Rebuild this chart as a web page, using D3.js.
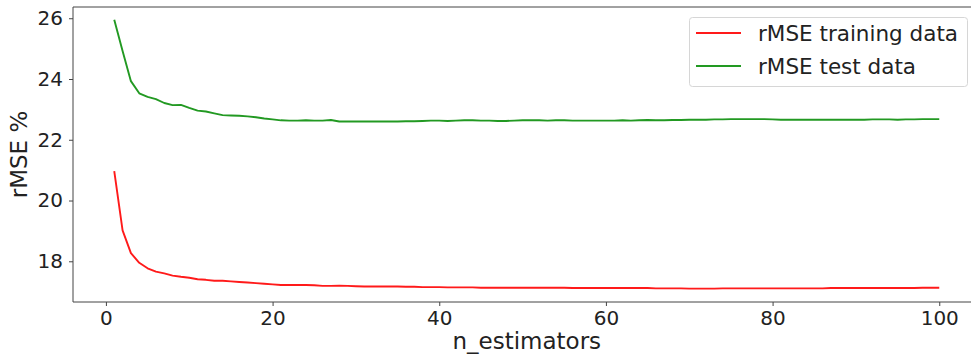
<!DOCTYPE html>
<html>
<head>
<meta charset="utf-8">
<script src="https://cdn.jsdelivr.net/npm/d3@7"></script>
<style>
  body { margin: 0; background: #fff; }
  svg { display: block; }
</style>
</head>
<body>
<div id="chart"></div>
<script>
// n_estimators 1..100
const nEstimators = d3.range(1, 101)

const trainRmse = [
  20.97, 19.02, 18.27, 17.95, 17.77, 17.66, 17.60, 17.53, 17.49, 17.46,
  17.41, 17.39, 17.36, 17.36, 17.34, 17.32, 17.30, 17.28, 17.26, 17.24,
  17.22, 17.22, 17.22, 17.22, 17.21, 17.19, 17.19, 17.20, 17.19, 17.18,
  17.17, 17.17, 17.17, 17.17, 17.17, 17.16, 17.16, 17.15, 17.15, 17.15,
  17.14, 17.14, 17.14, 17.14, 17.13, 17.13, 17.13, 17.13, 17.13, 17.13,
  17.13, 17.13, 17.13, 17.13, 17.13, 17.12, 17.12, 17.12, 17.12, 17.12,
  17.12, 17.12, 17.12, 17.12, 17.12, 17.11, 17.11, 17.11, 17.11, 17.10,
  17.10, 17.10, 17.10, 17.11, 17.11, 17.11, 17.11, 17.11, 17.11, 17.11,
  17.11, 17.11, 17.11, 17.11, 17.11, 17.11, 17.12, 17.12, 17.12, 17.12,
  17.12, 17.12, 17.12, 17.12, 17.12, 17.12, 17.12, 17.13, 17.13, 17.13
]

const testRmse = [
  25.95, 24.92, 23.93, 23.53, 23.41, 23.34, 23.21, 23.14, 23.15, 23.05,
  22.96, 22.93, 22.87, 22.81, 22.80, 22.79, 22.77, 22.74, 22.70, 22.67,
  22.64, 22.63, 22.63, 22.64, 22.63, 22.63, 22.65, 22.60, 22.60, 22.60,
  22.60, 22.60, 22.60, 22.60, 22.60, 22.61, 22.61, 22.62, 22.63, 22.63,
  22.62, 22.63, 22.64, 22.64, 22.63, 22.63, 22.62, 22.62, 22.63, 22.64,
  22.64, 22.64, 22.63, 22.64, 22.64, 22.63, 22.63, 22.63, 22.63, 22.63,
  22.63, 22.64, 22.63, 22.64, 22.65, 22.64, 22.64, 22.65, 22.65, 22.66,
  22.66, 22.66, 22.67, 22.67, 22.68, 22.68, 22.68, 22.68, 22.68, 22.67,
  22.66, 22.66, 22.66, 22.66, 22.66, 22.66, 22.66, 22.66, 22.66, 22.66,
  22.66, 22.67, 22.67, 22.67, 22.66, 22.67, 22.67, 22.68, 22.68, 22.68
]

const xTicks = [0, 20, 40, 60, 80, 100]
const yTicks = [18, 20, 22, 24, 26]
const seriesNames = ["rMSE training data", "rMSE test data"]
const seriesColors = ["#ff1a1a", "#229922"]

const width = 971, height = 360
const margin = { top: 7, bottom: 302, left: 73, right: 980.5 }
const font = "DejaVu Sans, sans-serif"
const ink = "#222"

const x = d3.scaleLinear()
  .domain([-3.95, 104.95])
  .range([margin.left, margin.right])

const y = d3.scaleLinear()
  .domain([16.66, 26.37])
  .range([margin.bottom, margin.top])

const svg = d3.select("#chart").append("svg")
  .attr("width", width)
  .attr("height", height)

// lines
const line = d3.line()
  .x(d => x(d[0]))
  .y(d => y(d[1]))

const series = [trainRmse, testRmse].map(vals => nEstimators.map((n, i) => [n, vals[i]]))

svg.append("g")
  .selectAll("path")
  .data(series)
  .join("path")
  .attr("fill", "none")
  .attr("stroke", (d, i) => seriesColors[i])
  .attr("stroke-width", 1.9)
  .attr("stroke-linejoin", "round")
  .attr("d", line)

// axes
const xAxis = svg.append("g")
  .attr("transform", `translate(0,${margin.bottom})`)
  .call(d3.axisBottom(x).tickValues(xTicks).tickSize(4).tickPadding(5).tickSizeOuter(0))
xAxis.select(".domain").remove()

const yAxis = svg.append("g")
  .attr("transform", `translate(${margin.left},0)`)
  .call(d3.axisLeft(y).tickValues(yTicks).tickSize(4).tickPadding(6).tickSizeOuter(0))
yAxis.select(".domain").remove()

svg.selectAll(".tick line").attr("stroke", "#444")
svg.selectAll(".tick text")
  .attr("fill", ink)
  .attr("font-family", font)
  .attr("font-size", 20)

// spines (right one falls outside the picture)
const spines = svg.append("g").attr("stroke", "#444").attr("stroke-width", 1).attr("fill", "none")
spines.append("line").attr("x1", margin.left).attr("x2", margin.left).attr("y1", margin.top).attr("y2", margin.bottom)
spines.append("line").attr("x1", margin.left).attr("x2", width).attr("y1", margin.top).attr("y2", margin.top)
spines.append("line").attr("x1", margin.left).attr("x2", width).attr("y1", margin.bottom).attr("y2", margin.bottom)

// axis labels
svg.append("text")
  .attr("x", (margin.left + margin.right) / 2)
  .attr("y", 349)
  .attr("text-anchor", "middle")
  .attr("font-family", font)
  .attr("font-size", 23)
  .attr("fill", ink)
  .text("n_estimators")

svg.append("text")
  .attr("transform", `translate(27,${(margin.top + margin.bottom) / 2}) rotate(-90)`)
  .attr("text-anchor", "middle")
  .attr("font-family", font)
  .attr("font-size", 23)
  .attr("fill", ink)
  .text("rMSE %")

// legend
const legend = svg.append("g")
legend.append("rect")
  .attr("x", 689.5).attr("y", 17.5)
  .attr("width", 278).attr("height", 69)
  .attr("rx", 3)
  .attr("fill", "white").attr("fill-opacity", 0.8)
  .attr("stroke", "#d6d6d6")

const items = legend.selectAll("g.item")
  .data(seriesNames)
  .join("g")
  .attr("class", "item")
  .attr("transform", (d, i) => `translate(0,${33 + i * 33})`)

items.append("line")
  .attr("x1", 696).attr("x2", 741)
  .attr("stroke", (d, i) => seriesColors[i])
  .attr("stroke-width", 1.9)

items.append("text")
  .attr("x", 758)
  .attr("dy", "0.35em")
  .attr("font-family", font)
  .attr("font-size", 21.5)
  .attr("fill", ink)
  .text(d => d)
</script>
</body>
</html>
